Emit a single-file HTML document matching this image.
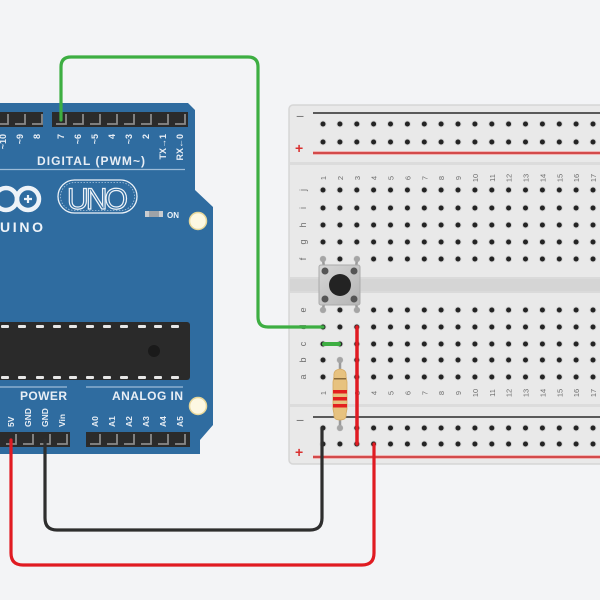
<!DOCTYPE html>
<html><head><meta charset="utf-8"><style>
html,body{margin:0;padding:0;background:#f3f4f6;}
svg{display:block;}
text{font-family:"Liberation Sans",sans-serif;}
</style></head><body>
<svg width="600" height="600" viewBox="0 0 600 600" xmlns="http://www.w3.org/2000/svg">
<defs>
  <g id="hole"><circle r="3.4" fill="#d0d0d0"/><circle r="2.5" fill="#242424"/></g>
  <g id="row">
    <use href="#hole" x="323" y="0"/><use href="#hole" x="339.9" y="0"/><use href="#hole" x="356.8" y="0"/><use href="#hole" x="373.6" y="0"/><use href="#hole" x="390.5" y="0"/><use href="#hole" x="407.4" y="0"/><use href="#hole" x="424.3" y="0"/><use href="#hole" x="441.1" y="0"/><use href="#hole" x="458" y="0"/><use href="#hole" x="474.9" y="0"/><use href="#hole" x="491.8" y="0"/><use href="#hole" x="508.6" y="0"/><use href="#hole" x="525.5" y="0"/><use href="#hole" x="542.4" y="0"/><use href="#hole" x="559.3" y="0"/><use href="#hole" x="576.1" y="0"/><use href="#hole" x="593" y="0"/>
  </g>
  <g id="pin"><path d="M-5,5 L5,5 L5,-5" fill="none" stroke="#8a8a8a" stroke-width="1.8"/></g>
  <linearGradient id="btn" x1="0" y1="0" x2="1" y2="1"><stop offset="0" stop-color="#d6d6d6"/><stop offset="1" stop-color="#b5b5b5"/></linearGradient>
</defs>

<rect width="600" height="600" fill="#f3f4f6"/>

<!-- ===== Arduino board ===== -->
<path d="M0,103 L188,103 L195,110 L195,190 L213,207 L213,425 L200,440 L200,454 L0,454 Z" fill="#2f6ca0"/>

<!-- top digital header -->
<rect x="0" y="112" width="43" height="15" fill="#2b2b2b"/>
<rect x="52" y="112" width="136" height="15" fill="#2b2b2b"/>
<use href="#pin" x="3" y="119"/><use href="#pin" x="20" y="119"/><use href="#pin" x="37" y="119"/>
<use href="#pin" x="61" y="119"/><use href="#pin" x="78" y="119"/><use href="#pin" x="95" y="119"/><use href="#pin" x="112" y="119"/><use href="#pin" x="129" y="119"/><use href="#pin" x="146" y="119"/><use href="#pin" x="163" y="119"/><use href="#pin" x="180" y="119"/>

<g fill="#e8eef5" font-size="9" font-weight="bold" text-anchor="end">
  <text transform="translate(6,134) rotate(-90)">~10</text>
  <text transform="translate(23,134) rotate(-90)">~9</text>
  <text transform="translate(40,134) rotate(-90)">8</text>
  <text transform="translate(64,134) rotate(-90)">7</text>
  <text transform="translate(81,134) rotate(-90)">~6</text>
  <text transform="translate(98,134) rotate(-90)">~5</text>
  <text transform="translate(115,134) rotate(-90)">4</text>
  <text transform="translate(132,134) rotate(-90)">~3</text>
  <text transform="translate(149,134) rotate(-90)">2</text>
  <text transform="translate(166,134) rotate(-90)">TX→1</text>
  <text transform="translate(183,134) rotate(-90)">RX←0</text>
</g>
<text x="37" y="165" fill="#e8eef5" font-size="12" font-weight="bold" textLength="108">DIGITAL (PWM~)</text>
<line x1="0" y1="169.5" x2="185" y2="169.5" stroke="#9dbcd8" stroke-width="1.2"/>

<!-- logo -->
<circle cx="6" cy="199" r="11" fill="none" stroke="#eef3f8" stroke-width="4.5"/>
<circle cx="28" cy="199" r="11" fill="none" stroke="#eef3f8" stroke-width="4.5"/>
<path d="M24,199 h8 M28,195 v8" stroke="#eef3f8" stroke-width="2.2"/>
<text x="0" y="232" fill="#eef3f8" font-size="14" font-weight="bold" textLength="43">UINO</text>
<rect x="58" y="180" width="79" height="33" rx="16.5" fill="none" stroke="#eef3f8" stroke-width="1.3"/>
<rect x="60.5" y="182.5" width="74" height="28" rx="14" fill="none" stroke="#a9c5de" stroke-width="0.8" stroke-dasharray="1.5 1.5"/>
<text x="67" y="209" fill="none" stroke="#eef3f8" stroke-width="1.2" font-size="30" textLength="61">UNO</text>
<rect x="145" y="211" width="18" height="6" fill="#c9ccd0"/>
<rect x="149" y="211" width="10" height="6" fill="#9ea3a8"/>
<text x="167" y="218" fill="#eef3f8" font-size="8" font-weight="bold">ON</text>
<circle cx="198" cy="221" r="8.5" fill="#fdf8e2" stroke="#e7d79a" stroke-width="1.5"/>

<!-- chip -->
<rect x="-4" y="322" width="194" height="58" rx="3" fill="#2a2a2a"/>
<g fill="#e6e6e6">
  <rect x="1" y="325" width="8" height="3" rx="1"/><rect x="18" y="325" width="8" height="3" rx="1"/><rect x="36" y="325" width="8" height="3" rx="1"/><rect x="53" y="325" width="8" height="3" rx="1"/><rect x="69" y="325" width="8" height="3" rx="1"/><rect x="86" y="325" width="8" height="3" rx="1"/><rect x="103" y="325" width="8" height="3" rx="1"/><rect x="120" y="325" width="8" height="3" rx="1"/><rect x="138" y="325" width="8" height="3" rx="1"/><rect x="154" y="325" width="8" height="3" rx="1"/><rect x="171" y="325" width="8" height="3" rx="1"/>
  <rect x="1" y="376" width="8" height="3" rx="1"/><rect x="18" y="376" width="8" height="3" rx="1"/><rect x="36" y="376" width="8" height="3" rx="1"/><rect x="53" y="376" width="8" height="3" rx="1"/><rect x="69" y="376" width="8" height="3" rx="1"/><rect x="86" y="376" width="8" height="3" rx="1"/><rect x="103" y="376" width="8" height="3" rx="1"/><rect x="120" y="376" width="8" height="3" rx="1"/><rect x="138" y="376" width="8" height="3" rx="1"/><rect x="154" y="376" width="8" height="3" rx="1"/><rect x="171" y="376" width="8" height="3" rx="1"/>
</g>
<circle cx="154" cy="351" r="6" fill="#1a1a1a"/>

<!-- power / analog -->
<line x1="0" y1="387" x2="67" y2="387" stroke="#9dbcd8" stroke-width="1.2"/>
<line x1="86" y1="387" x2="183" y2="387" stroke="#9dbcd8" stroke-width="1.2"/>
<text x="20" y="400" fill="#e8eef5" font-size="12" font-weight="bold" textLength="47">POWER</text>
<text x="112" y="400" fill="#e8eef5" font-size="12" font-weight="bold" textLength="71">ANALOG IN</text>
<circle cx="198" cy="406" r="8.5" fill="#fdf8e2" stroke="#e7d79a" stroke-width="1.5"/>
<g fill="#e8eef5" font-size="8.5" font-weight="bold" text-anchor="start">
  <text transform="translate(14,427) rotate(-90)">5V</text>
  <text transform="translate(31,427) rotate(-90)">GND</text>
  <text transform="translate(48,427) rotate(-90)">GND</text>
  <text transform="translate(65,427) rotate(-90)">Vin</text>
  <text transform="translate(98,427) rotate(-90)">A0</text>
  <text transform="translate(115,427) rotate(-90)">A1</text>
  <text transform="translate(132,427) rotate(-90)">A2</text>
  <text transform="translate(149,427) rotate(-90)">A3</text>
  <text transform="translate(166,427) rotate(-90)">A4</text>
  <text transform="translate(183,427) rotate(-90)">A5</text>
</g>
<rect x="0" y="432" width="70" height="15" fill="#2b2b2b"/>
<rect x="86" y="432" width="104" height="15" fill="#2b2b2b"/>
<use href="#pin" x="11" y="439"/><use href="#pin" x="28" y="439"/><use href="#pin" x="45" y="439"/><use href="#pin" x="62" y="439"/>
<use href="#pin" x="95" y="439"/><use href="#pin" x="112" y="439"/><use href="#pin" x="129" y="439"/><use href="#pin" x="146" y="439"/><use href="#pin" x="163" y="439"/><use href="#pin" x="180" y="439"/>

<!-- ===== Breadboard ===== -->
<rect x="289" y="105" width="330" height="359" rx="4" fill="#e9e9e9" stroke="#d6d6d6" stroke-width="1.5"/>
<rect x="290" y="162" width="320" height="3" fill="#dcdcdc"/>
<rect x="290" y="404" width="320" height="3" fill="#dcdcdc"/>
<rect x="290" y="277" width="320" height="16" fill="#dadada"/>
<rect x="290" y="279" width="320" height="12" fill="#d5d5d5"/>

<line x1="313" y1="113" x2="600" y2="113" stroke="#5a5a5a" stroke-width="2"/>
<line x1="313" y1="153" x2="600" y2="153" stroke="#f0b5b5" stroke-width="4"/>
<line x1="313" y1="153" x2="600" y2="153" stroke="#cf3b3b" stroke-width="1.8"/>
<line x1="313" y1="417" x2="600" y2="417" stroke="#5a5a5a" stroke-width="2"/>
<line x1="313" y1="457" x2="600" y2="457" stroke="#f0b5b5" stroke-width="4"/>
<line x1="313" y1="457" x2="600" y2="457" stroke="#cf3b3b" stroke-width="1.8"/>

<text x="296" y="121" fill="#777" font-size="14">−</text>
<text x="295" y="153" fill="#d9302f" font-size="14" font-weight="bold">+</text>
<text x="296" y="425" fill="#777" font-size="14">−</text>
<text x="295" y="457" fill="#d9302f" font-size="14" font-weight="bold">+</text>

<use href="#row" y="124"/><use href="#row" y="142"/>
<use href="#row" y="190"/><use href="#row" y="208"/><use href="#row" y="225"/><use href="#row" y="242"/><use href="#row" y="259"/>
<use href="#row" y="310"/><use href="#row" y="327"/><use href="#row" y="344"/><use href="#row" y="360"/><use href="#row" y="377"/>
<use href="#row" y="428"/><use href="#row" y="444"/>

<g fill="#6d6d6d" font-size="9" text-anchor="middle">
  <text transform="translate(306,190) rotate(-90)">j</text>
  <text transform="translate(306,208) rotate(-90)">i</text>
  <text transform="translate(306,225) rotate(-90)">h</text>
  <text transform="translate(306,242) rotate(-90)">g</text>
  <text transform="translate(306,259) rotate(-90)">f</text>
  <text transform="translate(306,310) rotate(-90)">e</text>
  <text transform="translate(306,327) rotate(-90)">d</text>
  <text transform="translate(306,344) rotate(-90)">c</text>
  <text transform="translate(306,360) rotate(-90)">b</text>
  <text transform="translate(306,377) rotate(-90)">a</text>
</g>
<g fill="#6d6d6d" font-size="7.5" text-anchor="middle">
  <text transform="translate(326,178) rotate(-90)">1</text><text transform="translate(342.9,178) rotate(-90)">2</text><text transform="translate(359.8,178) rotate(-90)">3</text><text transform="translate(376.6,178) rotate(-90)">4</text><text transform="translate(393.5,178) rotate(-90)">5</text><text transform="translate(410.4,178) rotate(-90)">6</text><text transform="translate(427.3,178) rotate(-90)">7</text><text transform="translate(444.1,178) rotate(-90)">8</text><text transform="translate(461,178) rotate(-90)">9</text><text transform="translate(477.9,178) rotate(-90)">10</text><text transform="translate(494.8,178) rotate(-90)">11</text><text transform="translate(511.6,178) rotate(-90)">12</text><text transform="translate(528.5,178) rotate(-90)">13</text><text transform="translate(545.4,178) rotate(-90)">14</text><text transform="translate(562.3,178) rotate(-90)">15</text><text transform="translate(579.1,178) rotate(-90)">16</text><text transform="translate(596,178) rotate(-90)">17</text>
  <text transform="translate(326,393) rotate(-90)">1</text><text transform="translate(342.9,393) rotate(-90)">2</text><text transform="translate(359.8,393) rotate(-90)">3</text><text transform="translate(376.6,393) rotate(-90)">4</text><text transform="translate(393.5,393) rotate(-90)">5</text><text transform="translate(410.4,393) rotate(-90)">6</text><text transform="translate(427.3,393) rotate(-90)">7</text><text transform="translate(444.1,393) rotate(-90)">8</text><text transform="translate(461,393) rotate(-90)">9</text><text transform="translate(477.9,393) rotate(-90)">10</text><text transform="translate(494.8,393) rotate(-90)">11</text><text transform="translate(511.6,393) rotate(-90)">12</text><text transform="translate(528.5,393) rotate(-90)">13</text><text transform="translate(545.4,393) rotate(-90)">14</text><text transform="translate(562.3,393) rotate(-90)">15</text><text transform="translate(579.1,393) rotate(-90)">16</text><text transform="translate(596,393) rotate(-90)">17</text>
</g>

<!-- pushbutton -->
<g stroke="#9a9a9a" stroke-width="2.5" stroke-linecap="round">
  <line x1="323" y1="259" x2="324" y2="268"/><line x1="357" y1="259" x2="356" y2="268"/>
  <line x1="323" y1="310" x2="324" y2="302"/><line x1="357" y1="310" x2="356" y2="302"/>
</g>
<g fill="#a5a5a5"><circle cx="323" cy="259" r="3"/><circle cx="357" cy="259" r="3"/><circle cx="323" cy="310" r="3"/><circle cx="357" cy="310" r="3"/></g>
<rect x="319" y="265" width="41" height="40" rx="2" fill="url(#btn)" stroke="#aaaaaa" stroke-width="1"/>
<g fill="#555"><circle cx="325" cy="271" r="3.5"/><circle cx="354" cy="271" r="3.5"/><circle cx="325" cy="299" r="3.5"/><circle cx="354" cy="299" r="3.5"/></g>
<circle cx="340" cy="285" r="11" fill="#232323"/>

<!-- resistor -->
<line x1="340" y1="360" x2="340" y2="428" stroke="#9a9a9a" stroke-width="2.5"/>
<circle cx="340" cy="360" r="3" fill="#a5a5a5"/><circle cx="340" cy="428" r="3" fill="#a5a5a5"/>
<path d="M334,376 Q333,370 340,369 Q347,370 346,376 L347,382 L347,409 L346,414 Q347,420 340,420 Q333,420 334,414 L333,409 L333,382 Z" fill="#e7c27f" stroke="#d4a962" stroke-width="0.8"/>
<rect x="334" y="378" width="12" height="1.5" fill="#8a6a3a"/>
<rect x="333" y="390" width="14" height="3.5" fill="#e3201f"/>
<rect x="333" y="397" width="14" height="3.5" fill="#e3201f"/>
<rect x="333" y="404" width="14" height="3.5" fill="#e3201f"/>

<!-- wires -->
<g fill="none" stroke-linecap="round" stroke-linejoin="round">
  <path d="M61,120 L61,67 Q61,57 71,57 L248,57 Q258,57 258,67 L258,317 Q258,327 268,327 L323,327" stroke="#3dae42" stroke-width="3.2"/>
  <path d="M324,344 L339,344" stroke="#3dae42" stroke-width="4"/>
  <path d="M357,327 L357,444" stroke="#e01b22" stroke-width="3.5"/>
  <path d="M45,440 L45,518 Q45,530 57,530 L310,530 Q322,530 322,518 L322,428" stroke="#2e2e2e" stroke-width="3.2"/>
  <path d="M11,440 L11,553 Q11,565 23,565 L362,565 Q374,565 374,553 L374,444" stroke="#e01b22" stroke-width="3.2"/>
</g>
</svg>
</body></html>
